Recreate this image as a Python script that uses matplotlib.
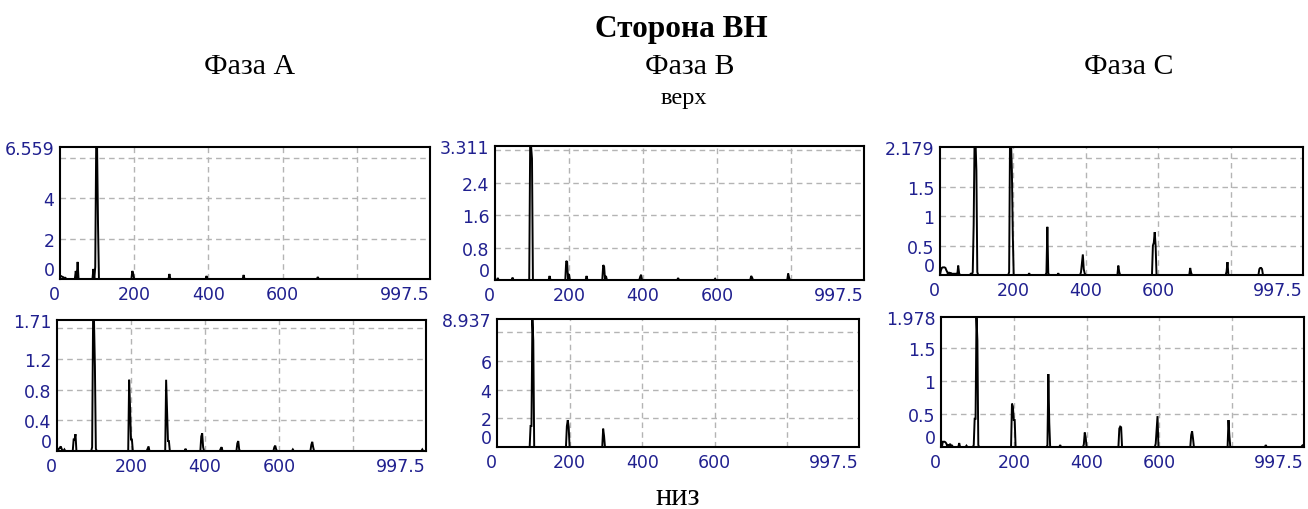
import numpy as np
import matplotlib.pyplot as plt

# frequency grid of the spectra, Hz (step 2.5)
freq = np.arange(0, 1000, 2.5)

# spectral lines: (frequency, amplitude)
a_top_f = [0, 2.5, 5, 7.5, 10, 15, 42.5, 47.5, 90, 95, 97.5, 100, 102.5, 195, 197.5, 295, 395, 495, 695]
a_top_v = [0.15, 0.15, 0.12, 0.1, 0.08, 0.05, 0.4, 0.85, 0.5, 0.6, 6.559, 6.5, 2.7, 0.4, 0.25, 0.25, 0.15, 0.2, 0.1]

b_top_f = [7.5, 47.5, 95, 97.5, 100, 147.5, 192.5, 195, 200, 247.5, 292.5, 295, 300, 392.5, 395, 495, 595, 692.5, 695, 792.5, 795]
b_top_v = [0.05, 0.06, 3.311, 3.311, 3.0, 0.1, 0.47, 0.45, 0.15, 0.1, 0.37, 0.33, 0.1, 0.08, 0.13, 0.05, 0.03, 0.1, 0.06, 0.16, 0.06]

c_top_f = [2.5, 5, 7.5, 10, 12.5, 15, 17.5, 20, 25, 30, 35, 40, 45, 50, 52.5, 85, 90, 92.5, 95, 97.5, 100, 102.5,
           190, 192.5, 195, 197.5, 200, 245, 292.5, 295, 297.5, 325, 387.5, 390, 392.5, 395, 397.5,
           490, 492.5, 585, 587.5, 590, 592.5, 687.5, 690, 787.5, 790, 877.5, 880, 882.5, 885]
c_top_v = [0.08, 0.12, 0.13, 0.13, 0.13, 0.12, 0.08, 0.05, 0.05, 0.04, 0.03, 0.03, 0.03, 0.16, 0.03, 0.03, 0.05, 0.85, 2.3, 2.3, 1.78, 0.05,
           0.05, 2.4, 2.3, 1.78, 0.7, 0.03, 0.04, 0.82, 0.03, 0.03, 0.05, 0.2, 0.35, 0.1, 0.03,
           0.16, 0.05, 0.5, 0.55, 0.73, 0.5, 0.12, 0.04, 0.06, 0.22, 0.1, 0.12, 0.12, 0.1]

a_bot_f = [5, 7.5, 10, 12.5, 20, 45, 47.5, 50, 95, 97.5, 100, 102.5, 105, 195, 197.5, 200, 202.5,
           245, 247.5, 295, 297.5, 300, 302.5, 347.5, 390, 392.5, 395, 442.5, 445, 487.5, 490, 492.5,
           587.5, 590, 592.5, 637.5, 687.5, 690, 692.5, 987.5]
a_bot_v = [0.03, 0.04, 0.06, 0.03, 0.02, 0.15, 0.15, 0.22, 0.05, 1.71, 1.71, 1.1, 0.03, 0.93, 0.57, 0.15, 0.15,
           0.03, 0.06, 0.93, 0.52, 0.13, 0.13, 0.03, 0.19, 0.23, 0.05, 0.03, 0.05, 0.1, 0.13, 0.02,
           0.05, 0.07, 0.02, 0.02, 0.08, 0.12, 0.05, 0.02]

b_bot_f = [92.5, 95, 97.5, 100, 192.5, 195, 197.5, 292.5, 295]
b_bot_v = [1.47, 1.47, 8.937, 7.42, 1.45, 1.87, 1.4, 1.28, 0.77]

c_bot_f = [5, 7.5, 10, 12.5, 15, 20, 25, 30, 50, 70, 90, 92.5, 95, 97.5, 100, 102.5,
           195, 197.5, 200, 202.5, 292.5, 295, 297.5, 327.5, 392.5, 395, 397.5, 490, 492.5, 495,
           590, 592.5, 595, 687.5, 690, 692.5, 790, 792.5, 892.5, 992.5, 995]
c_bot_v = [0.08, 0.08, 0.08, 0.07, 0.05, 0.04, 0.05, 0.03, 0.06, 0.02, 0.03, 0.43, 0.43, 1.978, 1.62, 0.03,
           0.66, 0.62, 0.41, 0.41, 0.03, 1.11, 0.37, 0.03, 0.04, 0.22, 0.15, 0.28, 0.31, 0.3,
           0.05, 0.27, 0.47, 0.18, 0.24, 0.13, 0.41, 0.17, 0.03, 0.02, 0.03]

# y axis of the six panels: top value, dashed grid levels, labelled ticks
y_max = [6.559, 3.311, 2.179, 1.71, 8.937, 1.978]
y_grid = [[2, 4, 6], [0.8, 1.6, 2.4, 3.2], [0.5, 1, 1.5, 2],
          [0.4, 0.8, 1.2, 1.6], [2, 4, 6, 8], [0.5, 1, 1.5]]
y_labels = [[0, 2, 4, 6.559], [0, 0.8, 1.6, 2.4, 3.311], [0, 0.5, 1, 1.5, 2.179],
            [0, 0.4, 0.8, 1.2, 1.71], [0, 2, 4, 6, 8.937], [0, 0.5, 1, 1.5, 1.978]]
x_max = 997.5
x_labels = [0, 200, 400, 600, 997.5]
x_grid = [200, 400, 600, 800]

panels = [(a_top_f, a_top_v), (b_top_f, b_top_v), (c_top_f, c_top_v),
          (a_bot_f, a_bot_v), (b_bot_f, b_bot_v), (c_bot_f, c_bot_v)]

# axes boxes in pixels: left, right, top, bottom
boxes = [(60, 430, 148, 280), (495, 864, 147, 281), (940, 1303, 148, 276),
         (57, 426, 321, 452), (497, 859, 320, 448), (941, 1304, 318, 448)]

W, H = 1308, 510
fig = plt.figure(figsize=(W / 100, H / 100), dpi=100)
label_color = '#20208f'
grid_kw = dict(color='#b4b4b4', lw=1, ls=(0, (4, 3)), zorder=0)

for i, (pf, pv) in enumerate(panels):
    l, r, t, b = boxes[i]
    ax = fig.add_axes([l / W, 1 - b / H, (r - l) / W, (b - t) / H])

    spec = np.zeros(len(freq))
    for f, v in zip(pf, pv):
        spec[int(round(f / 2.5))] = v
    ax.plot(freq, spec, color='black', lw=1.4, solid_joinstyle='miter')

    ax.set_xlim(0, x_max)
    ax.set_ylim(0, y_max[i])
    for gy in y_grid[i]:
        ax.axhline(gy, **grid_kw)
    for gx in x_grid:
        ax.axvline(gx, **grid_kw)

    ax.set_yticks(y_labels[i])
    ax.set_yticklabels(['%g' % v for v in y_labels[i]])
    ax.set_xticks(x_labels)
    ax.set_xticklabels(['%g' % v for v in x_labels])
    ax.tick_params(length=0, labelsize=12.5, labelcolor=label_color)
    ax.tick_params(axis='y', pad=4)
    ax.tick_params(axis='x', pad=4)
    ax.get_yticklabels()[0].set_va('bottom')
    xt = ax.get_xticklabels()
    xt[0].set_ha('right')
    xt[-1].set_ha('right')
    for sp in ax.spines.values():
        sp.set_linewidth(1.5)

serif = 'Liberation Serif'
fig.text(681 / W, 1 - 37 / H, 'Сторона ВН', ha='center', va='baseline',
         family=serif, weight='bold', fontsize=22.5)
for x, name in [(250, 'Фаза А'), (690, 'Фаза В'), (1129, 'Фаза С')]:
    fig.text(x / W, 1 - 74 / H, name, ha='center', va='baseline', family=serif, fontsize=21.5)
fig.text(684 / W, 1 - 104 / H, 'верх', ha='center', va='baseline', family=serif, fontsize=17.5)
fig.text(678 / W, 1 - 505 / H, 'низ', ha='center', va='baseline', family=serif, fontsize=22)

fig.savefig('out.png', dpi=100)
